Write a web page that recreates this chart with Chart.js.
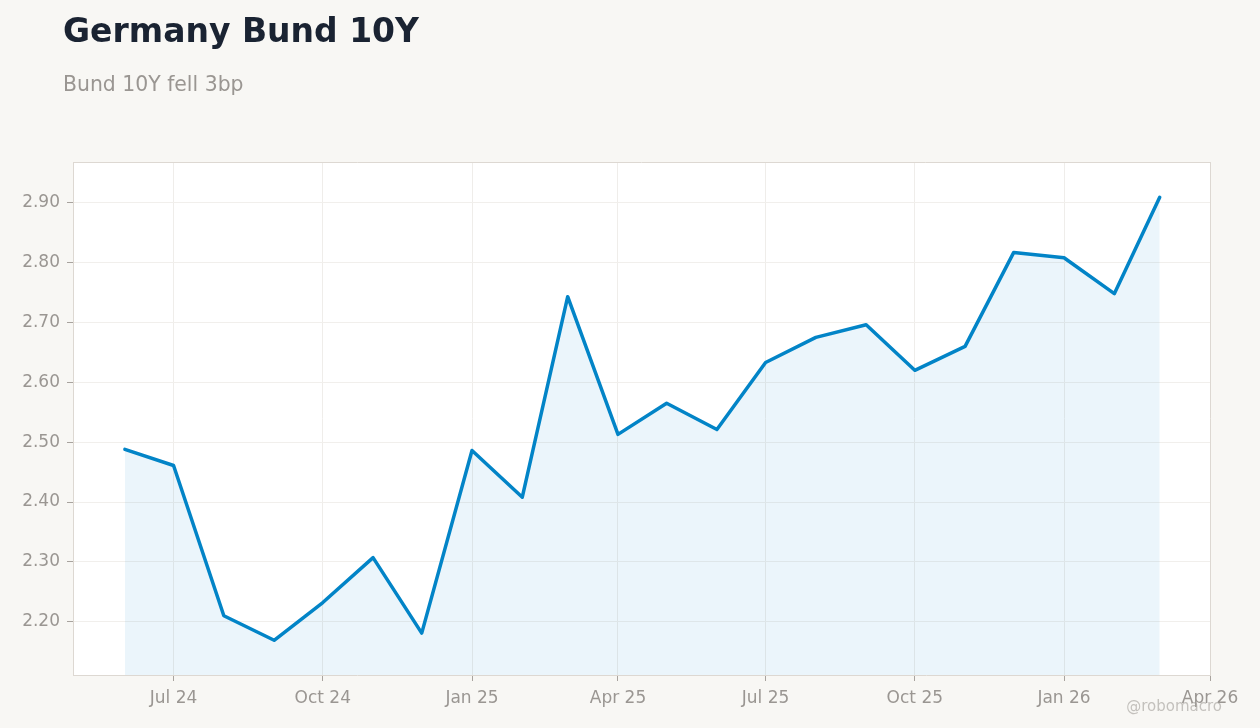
<!DOCTYPE html>
<html>
<head>
<meta charset="utf-8">
<script src="https://cdn.jsdelivr.net/npm/chart.js@4/dist/chart.umd.min.js"></script>
<style>
  html, body { margin: 0; padding: 0; background: #f8f7f4; }
  #wrap { position: relative; width: 1260px; height: 728px; }
</style>
</head>
<body>
<div id="wrap"><canvas id="bundChart" width="1260" height="728"></canvas></div>
<script>
// monthly observations
const dates = ['2024-06-01', '2024-07-01', '2024-08-01', '2024-09-01', '2024-10-01', '2024-11-01',
  '2024-12-01', '2025-01-01', '2025-02-01', '2025-03-01', '2025-04-01', '2025-05-01',
  '2025-06-01', '2025-07-01', '2025-08-01', '2025-09-01', '2025-10-01', '2025-11-01',
  '2025-12-01', '2026-01-01', '2026-02-01', '2026-03-01'];
const yields = [2.488, 2.461, 2.210, 2.169, 2.232, 2.307, 2.181, 2.486, 2.408, 2.743, 2.513,
  2.565, 2.521, 2.633, 2.675, 2.696, 2.620, 2.660, 2.817, 2.808, 2.748, 2.909];

const tickDates = ['2024-07-01', '2024-10-01', '2025-01-01', '2025-04-01',
  '2025-07-01', '2025-10-01', '2026-01-01', '2026-04-01'];
const tickLabels = ['Jul 24', 'Oct 24', 'Jan 25', 'Apr 25', 'Jul 25', 'Oct 25', 'Jan 26', 'Apr 26'];

const xMinDate = '2024-04-30';
const xMaxDate = '2026-04-01';
const yMin = 2.111;
const yMax = 2.968;

const ms = d => Date.parse(d + 'T00:00:00Z');
const tickMs = tickDates.map(ms);

const FONT = "'DejaVu Sans', sans-serif";
const BORDER = '#ddd8d2';

const frame = {
  id: 'frame',
  beforeDraw(chart) {
    const { ctx, chartArea: a } = chart;
    ctx.save();
    ctx.fillStyle = '#ffffff';
    ctx.fillRect(a.left, a.top, a.right - a.left, a.bottom - a.top);
    ctx.restore();
  },
  afterDraw(chart) {
    const { ctx, chartArea: a } = chart;
    ctx.save();
    ctx.strokeStyle = BORDER;
    ctx.lineWidth = 1;
    ctx.beginPath();
    ctx.moveTo(a.left, a.top + 0.5);
    ctx.lineTo(a.right, a.top + 0.5);
    ctx.moveTo(a.right + 0.5, a.top);
    ctx.lineTo(a.right + 0.5, a.bottom);
    ctx.stroke();

    ctx.fillStyle = '#1a2332';
    ctx.font = 'bold 33px ' + FONT;
    ctx.textAlign = 'left';
    ctx.textBaseline = 'alphabetic';
    ctx.fillText('Germany Bund 10Y', 63, 42);

    ctx.fillStyle = '#9a9692';
    ctx.font = '20.4px ' + FONT;
    ctx.fillText('Bund 10Y fell 3bp', 63, 91);

    ctx.fillStyle = 'rgba(160,156,152,0.6)';
    ctx.font = '15px ' + FONT;
    ctx.textAlign = 'right';
    ctx.fillText('@robomacro', 1222, 711);
    ctx.restore();
  }
};

new Chart(document.getElementById('bundChart'), {
  type: 'line',
  data: {
    datasets: [{
      label: 'Bund 10Y',
      data: dates.map((d, i) => ({ x: ms(d), y: yields[i] })),
      borderColor: '#0284c7',
      backgroundColor: 'rgba(2,132,199,0.08)',
      borderWidth: 3.5,
      borderJoinStyle: 'round',
      borderCapStyle: 'round',
      pointRadius: 0,
      tension: 0,
      fill: 'start'
    }]
  },
  options: {
    responsive: false,
    animation: false,
    layout: { padding: { top: 162, right: 50, left: 0, bottom: 0 } },
    plugins: {
      legend: { display: false },
      tooltip: { enabled: false }
    },
    scales: {
      x: {
        type: 'linear',
        min: ms(xMinDate),
        max: ms(xMaxDate),
        afterBuildTicks: scale => { scale.ticks = tickMs.map(v => ({ value: v })); },
        afterFit: scale => { scale.height = 53; },
        ticks: {
          color: '#9a9692',
          font: { family: FONT, size: 17 },
          padding: 7,
          maxRotation: 0,
          autoSkip: false,
          callback: value => tickLabels[tickMs.indexOf(value)] || ''
        },
        grid: { color: '#efedea', tickColor: '#a8a39e', tickLength: 6 },
        border: { color: BORDER }
      },
      y: {
        min: yMin,
        max: yMax,
        afterFit: scale => { scale.width = 73; },
        ticks: {
          stepSize: 0.1,
          includeBounds: false,
          color: '#9a9692',
          font: { family: FONT, size: 17 },
          padding: 7,
          callback: value => value.toFixed(2)
        },
        grid: { color: '#f1efec', tickColor: '#a8a39e', tickLength: 6 },
        border: { color: BORDER }
      }
    }
  },
  plugins: [frame]
});
</script>
</body>
</html>
